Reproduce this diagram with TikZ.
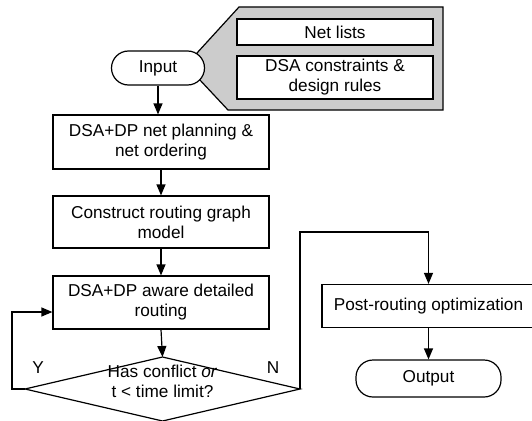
\documentclass[tikz,border=0pt]{standalone}
\usepackage{fontspec}
\setmainfont{Liberation Sans}
\usetikzlibrary{arrows.meta,calc}
\begin{document}
\begin{tikzpicture}[x=1pt,y=-1pt,
  every node/.style={font=\fontsize{17.2}{20}\selectfont, align=center, inner sep=0pt},
  ln/.style={line width=1.2pt},
  boxst/.style={draw, ln, fill=white, minimum width=216pt},
  term/.style={draw, ln, fill=white, rounded corners=17pt},
  arr/.style={ln, -{Triangle[length=11pt,width=9pt]}}]
\useasboundingbox (0,0) rectangle (532,420);
% callout
\draw[ln, fill=black!20, line join=miter] (197,53) -- (239,7) -- (443,7) -- (443,110) -- (228,110) -- (199,79) -- cycle;
\node[boxst, minimum width=196pt, minimum height=26pt] (nets) at (335,32) {Net lists};
\node[boxst, minimum width=196pt, minimum height=43pt] (dsa) at (335,77.5) {DSA constraints \&\\design rules};
\node[term, minimum width=93pt, minimum height=34pt] (input) at (158,68) {Input};
% main column
\node[boxst, minimum height=54pt] (b1) at (161,142) {DSA+DP net planning \&\\net ordering};
\node[boxst, minimum height=52pt] (b2) at (161,222) {Construct routing graph\\model};
\node[boxst, minimum height=53pt] (b3) at (161,302.5) {DSA+DP aware detailed\\routing};
% decision
\coordinate (dl) at (25,389);
\coordinate (dt) at (162.5,357);
\coordinate (dr) at (300,389);
\coordinate (db) at (162.5,421);
\draw[ln, fill=white] (dl) -- (dt) -- (dr) -- (db) -- cycle;
\node (dec) at (162.5,381) {Has conflict \textit{or}\\t < time limit?};
% right column
\node[boxst, minimum width=213pt, minimum height=43pt] (post) at (428.5,306) {Post-routing optimization};
\node[term, minimum width=145pt, minimum height=37pt] (out) at (428.5,378.5) {Output};
% connectors
\draw[arr] (input.south -| b1.north) ++(-3,0) -- ([xshift=-3pt]b1.north);
\draw[arr] (b1.south) -- (b2.north);
\draw[arr] (b2.south) -- (b3.north);
\draw[arr] (b3.south) -- (dt);
\draw[arr] (dl) -- ++(-13,0) |- ([yshift=-9.5pt]b3.west);
\draw[arr] (dr) -- ++(0,-157) -| (post.north);
\draw[arr] (post.south) -- (out.north);
\node (ylab) at (38,368) {Y};
\node (nlab) at (273,368) {N};
\end{tikzpicture}
\end{document}
